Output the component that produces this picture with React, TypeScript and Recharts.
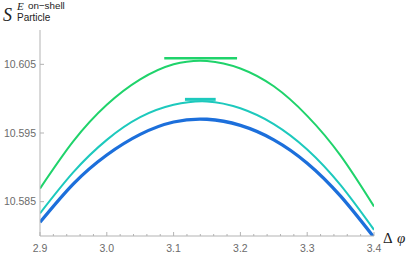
import React from 'react';
import { LineChart, Line, XAxis, YAxis, ReferenceLine } from 'recharts';

// Δφ sample points and the three curves
const deltaPhi = [2.9, 2.95, 3.0, 3.05, 3.1, 3.15, 3.2, 3.25, 3.3, 3.35, 3.4];
const greenCurve = [10.5869, 10.5938, 10.5991, 10.6028, 10.605, 10.6055, 10.6044, 10.6018, 10.5975, 10.5917, 10.5843];
const cyanCurve = [10.5833, 10.5893, 10.594, 10.5973, 10.5991, 10.5996, 10.5986, 10.5963, 10.5926, 10.5874, 10.5809];
const blueCurve = [10.582, 10.5876, 10.5918, 10.5948, 10.5966, 10.597, 10.5961, 10.594, 10.5906, 10.5858, 10.5798];

// short horizontal markers above the maxima
const greenMarkX = [3.086, 3.195];
const greenMarkY = 10.6059;
const cyanMarkX = [3.117, 3.163];
const cyanMarkY = 10.5999;

const xTicks = [2.9, 2.92, 2.94, 2.96, 2.98, 3.0, 3.02, 3.04, 3.06, 3.08, 3.1, 3.12, 3.14, 3.16, 3.18, 3.2, 3.22, 3.24, 3.26, 3.28, 3.3, 3.32, 3.34, 3.36, 3.38, 3.4];
const yTicks = [10.585, 10.595, 10.605];

const data = deltaPhi.map((x, i) => ({
  x,
  green: greenCurve[i],
  cyan: cyanCurve[i],
  blue: blueCurve[i],
}));

const GREEN = '#1fd36b';
const CYAN = '#1dc9bd';
const BLUE = '#1c6fdb';
const AXIS = '#b3b3b3';
const LABEL = '#6b6b6b';
const tickFont = '"Liberation Sans", Arial, sans-serif';
const serif = '"Liberation Serif", "Times New Roman", serif';

const XTick = (props: any) => {
  const { x, y, payload } = props;
  const v = payload.value;
  const major = Math.abs(v * 10 - Math.round(v * 10)) < 1e-6;
  return (
    <g>
      <line x1={x} x2={x} y1={y} y2={y - (major ? 4 : 2)} stroke={AXIS} />
      {major && (
        <text x={x} y={y + 16} textAnchor="middle" fontSize={10.5} fill={LABEL} fontFamily={tickFont}>
          {v.toFixed(1)}
        </text>
      )}
    </g>
  );
};

const YTick = (props: any) => {
  const { x, y, payload } = props;
  return (
    <g>
      <line x1={x} x2={x + 4} y1={y} y2={y} stroke={AXIS} />
      <text x={x - 4} y={y + 3.5} textAnchor="end" fontSize={10.5} fill={LABEL} fontFamily={tickFont}>
        {payload.value.toFixed(3)}
      </text>
    </g>
  );
};

const App: React.FC = () => {
  return (
    <div style={{ position: 'absolute', left: 0, top: 0, width: 415, height: 256 }}>
      <LineChart width={415} height={256} data={data} margin={{ top: 30, right: 41, bottom: 0, left: 0 }}>
        <XAxis
          type="number"
          dataKey="x"
          domain={[2.9, 3.4]}
          ticks={xTicks}
          tick={<XTick />}
          tickSize={0}
          tickMargin={0}
          tickLine={false}
          interval={0}
          height={20}
          stroke={AXIS}
          allowDataOverflow
        />
        <YAxis
          type="number"
          domain={[10.58, 10.61]}
          ticks={yTicks}
          tick={<YTick />}
          tickSize={0}
          tickMargin={0}
          tickLine={false}
          interval={0}
          width={40}
          stroke={AXIS}
          allowDataOverflow
        />
        <Line type="natural" dataKey="green" stroke={GREEN} strokeWidth={2} dot={false} isAnimationActive={false} />
        <Line type="natural" dataKey="cyan" stroke={CYAN} strokeWidth={2} dot={false} isAnimationActive={false} />
        <Line type="natural" dataKey="blue" stroke={BLUE} strokeWidth={3.3} dot={false} isAnimationActive={false} />
        <ReferenceLine
          segment={[{ x: greenMarkX[0], y: greenMarkY }, { x: greenMarkX[1], y: greenMarkY }]}
          stroke={GREEN}
          strokeWidth={2.5}
          ifOverflow="visible"
        />
        <ReferenceLine
          segment={[{ x: cyanMarkX[0], y: cyanMarkY }, { x: cyanMarkX[1], y: cyanMarkY }]}
          stroke={CYAN}
          strokeWidth={3}
          ifOverflow="visible"
        />
      </LineChart>
      <svg width={415} height={256} style={{ position: 'absolute', left: 0, top: 0, pointerEvents: 'none' }}>
        <text x={3} y={21} fontSize={18} fontStyle="italic" fontFamily={serif} fill="#222">S</text>
        <text x={17} y={10} fontSize={11} fontStyle="italic" fontFamily={serif} fill="#222">E</text>
        <text x={28} y={9} fontSize={9.8} fontFamily={tickFont} fill="#222">on−shell</text>
        <text x={17} y={21} fontSize={10} fontFamily={tickFont} fill="#222">Particle</text>
        <text x={383} y={243} fontSize={15} fontFamily={serif} fill="#222">Δ</text>
        <text x={397} y={243} fontSize={15} fontStyle="italic" fontFamily={serif} fill="#222">φ</text>
      </svg>
    </div>
  );
};

export default App;
